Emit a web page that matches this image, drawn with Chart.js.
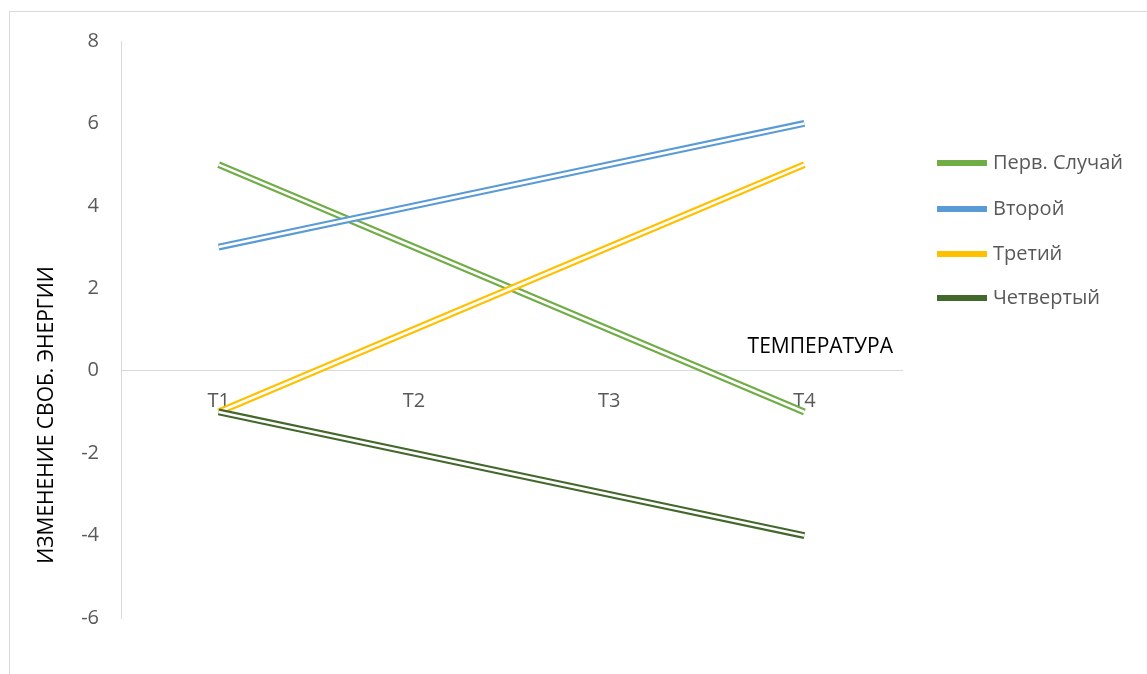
<!DOCTYPE html>
<html><head><meta charset="utf-8">
<script src="https://cdn.jsdelivr.net/npm/chart.js@4/dist/chart.umd.min.js"></script>
<style>
html,body{margin:0;padding:0;background:#fff;}
#wrap{position:relative;width:1147px;height:674px;overflow:hidden;}
#frame{position:absolute;left:9px;top:11px;width:1200px;height:800px;border:1px solid #d9d9d9;box-sizing:border-box;}
canvas{position:absolute;left:0;top:0;}
</style></head>
<body><div id="wrap"><div id="frame"></div><canvas id="c" width="1147" height="674"></canvas></div>
<script>
const categories = ['T1','T2','T3','T4'];
const seriesNames = ['Перв. Случай','Второй','Третий','Четвертый'];
const pervSluchai = [5, 3, 1, -1];
const vtoroy = [3, 4, 5, 6];
const tretiy = [-1, 1, 3, 5];
const chetvertyy = [-1, -2, -3, -4];
const seriesValues = [pervSluchai, vtoroy, tretiy, chetvertyy];
const seriesColors = ['#70ad47','#5b9bd5','#ffc000','#43682b'];
const xTitle = 'ТЕМПЕРАТУРА';
const yTitle = 'ИЗМЕНЕНИЕ СВОБ. ЭНЕРГИИ';
const yMin = -6, yMax = 8, yStep = 2;

const FONT = '"Open Sans", sans-serif';
const datasets = [];
seriesValues.forEach((vals, i) => {
  datasets.push({label: seriesNames[i], data: vals, borderColor: seriesColors[i], backgroundColor: seriesColors[i],
    borderWidth: 7, pointRadius: 0, tension: 0, order: 20 - i*2, borderCapStyle: 'butt'});
  datasets.push({label: '_inner' + i, data: vals, borderColor: '#ffffff', borderWidth: 2.6, pointRadius: 0,
    tension: 0, order: 19 - i*2, borderCapStyle: 'butt'});
});

const extras = {
  id: 'extras',
  afterDraw(chart) {
    const ctx = chart.ctx;
    ctx.save();
    // legend
    ctx.font = '20px ' + FONT;
    ctx.textBaseline = 'middle';
    ctx.textAlign = 'left';
    const ly = [163, 209, 254, 298];
    seriesNames.forEach((n, i) => {
      ctx.fillStyle = seriesColors[i];
      ctx.fillRect(937, ly[i] - 3, 50, 6);
      ctx.fillStyle = '#595959';
      ctx.fillText(n, 993, ly[i]);
    });
    // x title
    ctx.font = '21px ' + FONT;
    ctx.fillStyle = '#000000';
    ctx.textAlign = 'right';
    ctx.fillText(xTitle, 893, 347);
    // y title
    ctx.translate(47, 415);
    ctx.rotate(-Math.PI/2);
    ctx.textAlign = 'center';
    ctx.fillText(yTitle, 0, 0);
    ctx.restore();
  }
};

new Chart(document.getElementById('c'), {
  type: 'line',
  data: {labels: categories, datasets},
  options: {
    responsive: false, animation: false,
    layout: {padding: {left: 0, top: 41, right: 245, bottom: 56}},
    plugins: {legend: {display: false}, tooltip: {enabled: false}},
    scales: {
      x: {
        position: {y: 0},
        offset: true,
        grid: {display: false, drawTicks: false},
        border: {display: true, color: '#d9d9d9', width: 1},
        ticks: {color: '#595959', font: {family: FONT, size: 20}, padding: 19}
      },
      y: {
        min: yMin, max: yMax,
        afterFit(s) { s.width = 121; },
        grid: {display: false, drawTicks: false},
        border: {display: true, color: '#d9d9d9', width: 1},
        ticks: {stepSize: yStep, color: '#595959', font: {family: FONT, size: 20}, padding: 22}
      }
    }
  },
  plugins: [extras]
});
</script></body></html>
